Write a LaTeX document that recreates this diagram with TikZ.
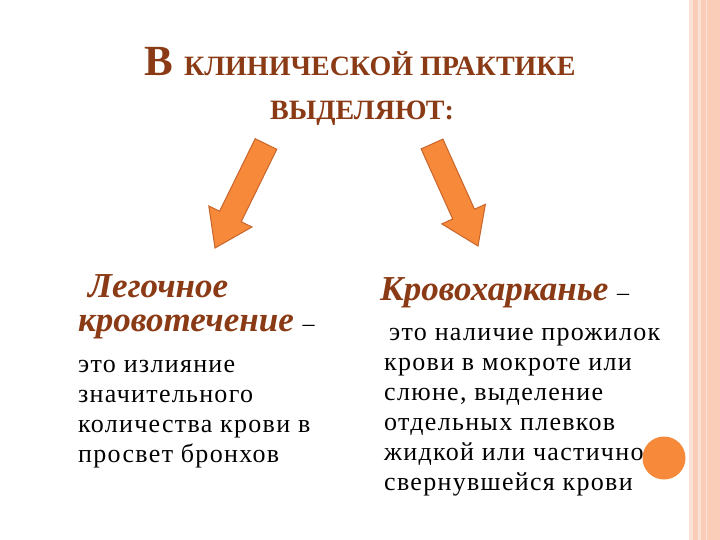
\documentclass[tikz,border=0pt]{standalone}
\usepackage{fontspec}
\setmainfont{Liberation Serif}
\newfontfamily\bodyf[LetterSpace=5]{Liberation Serif}
\definecolor{ttl}{HTML}{8A3A14}
\definecolor{arr}{HTML}{F68A3A}
\definecolor{arrd}{HTML}{C8652C}
\definecolor{bordA}{HTML}{F9CDB8}
\definecolor{bordB}{HTML}{FBE2D6}
\begin{document}
\begin{tikzpicture}[x=1pt,y=-1pt,
  ttlt/.style={text=ttl,font=\bfseries,inner sep=0},
  head/.style={text=ttl,font=\fontsize{35}{38}\selectfont\bfseries\itshape,anchor=base west,inner sep=0},
  body/.style={font=\fontsize{26}{29}\selectfont\bodyf,anchor=base west,inner sep=0},
  arrow/.style={fill=arr,draw=arrd,line width=1pt,line join=miter}]
\useasboundingbox (0,0) rectangle (720,540);
\fill[white] (0,0) rectangle (720,540);
% right border
\fill[bordB] (689,0) rectangle (693,540);
\fill[bordA] (693,0) rectangle (698,540);
\fill[bordB] (698,0) rectangle (701,540);
\fill[bordA] (701,0) rectangle (720,540);
\draw[bordB,line width=1pt] (706,0) -- (706,540);
% title
\node[ttlt,anchor=base] (t1) at (360,76) {\fontsize{43}{46}\selectfont В \fontsize{28}{30}\selectfont КЛИНИЧЕСКОЙ ПРАКТИКЕ};
\node[ttlt,anchor=base] (t2) at (362,120) {\fontsize{28}{30}\selectfont ВЫДЕЛЯЮТ:};
% arrows
\path[arrow] (255.2,138.7) -- (276.8,149.3) -- (241.2,221.8) -- (252,227) -- (215,248) -- (208.8,206) -- (219.6,211.2) -- cycle;
\path[arrow] (421.1,148.9) -- (442.9,139.1) -- (474.5,209.2) -- (485.4,204.3) -- (478,246) -- (441.8,223.9) -- (452.7,219.0) -- cycle;
% left
\node[head] (lh1) at (88,297) {Легочное};
\node[head] (lh2) at (78,331) {кровотечение \textnormal{\fontsize{24}{28}\selectfont\color{black}–}};
\node[body] (lb1) at (78,372) {это излияние};
\node[body] (lb2) at (78,402) {значительного};
\node[body] (lb3) at (78,432) {количества крови в};
\node[body] (lb4) at (78,462) {просвет бронхов};
% right
\node[head] (rh1) at (380,300) {Кровохарканье \textnormal{\fontsize{24}{28}\selectfont\color{black}–}};
\node[body] (rb1) at (389,340) {это наличие прожилок};
\node[body] (rb2) at (384,370) {крови в мокроте или};
\node[body] (rb3) at (384,400) {слюне, выделение};
\node[body] (rb4) at (384,430) {отдельных плевков};
\node[body] (rb5) at (384,460) {жидкой или частично};
\node[body] (rb6) at (384,490) {свернувшейся крови};
\node[circle,fill=arr,minimum size=43pt,inner sep=0] (dot) at (664,458) {};
\end{tikzpicture}
\end{document}
